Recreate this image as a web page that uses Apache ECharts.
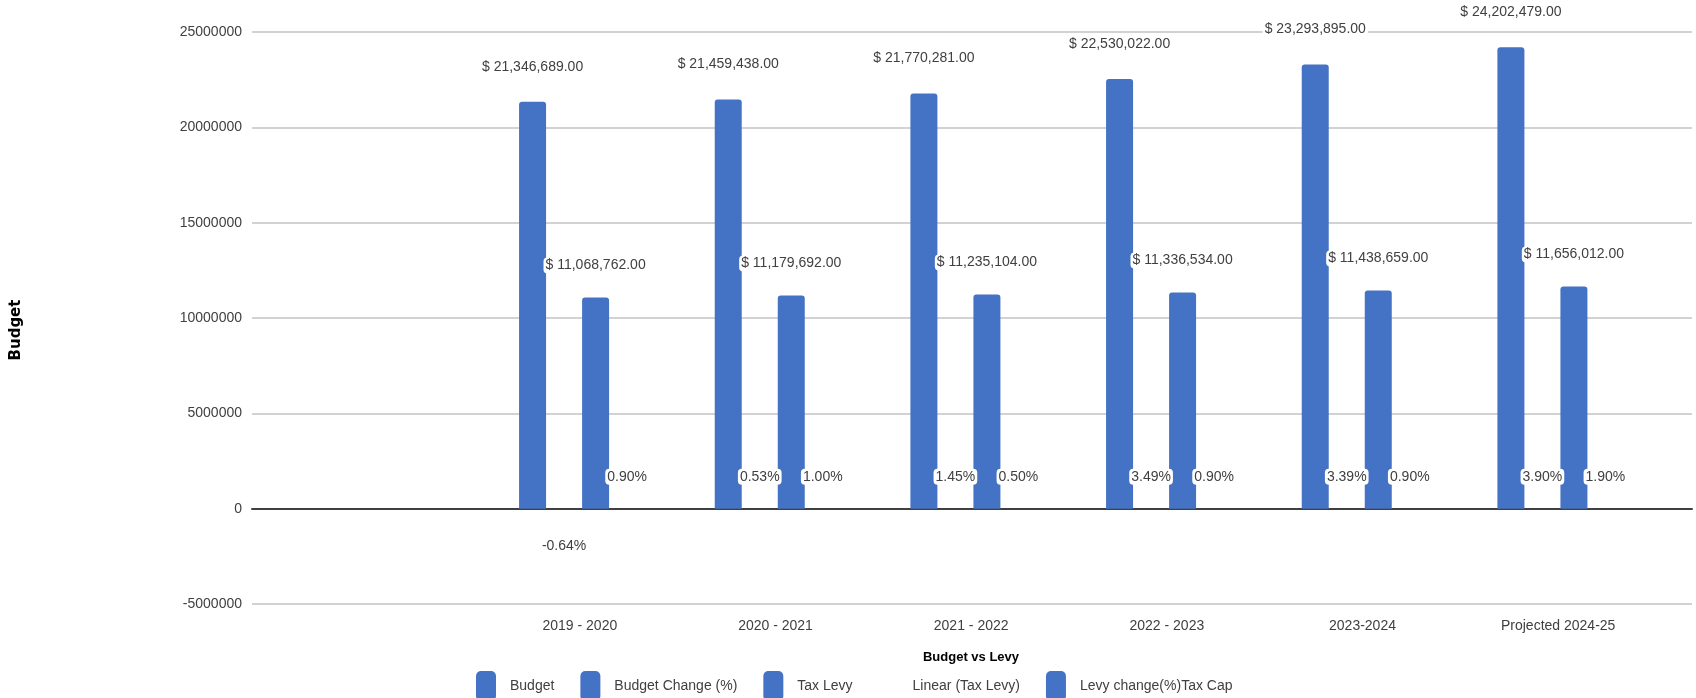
<!DOCTYPE html>
<html>
<head>
<meta charset="utf-8">
<script src="https://cdn.jsdelivr.net/npm/echarts@6/dist/echarts.min.js"></script>
<style>
  html, body { margin: 0; padding: 0; background: #ffffff; }
  #chart { width: 1696px; height: 698px; }
</style>
</head>
<body>
<div id="chart"></div>
<script>
// ---- data ----
const categories = ['2019 - 2020', '2020 - 2021', '2021 - 2022', '2022 - 2023', '2023-2024', 'Projected 2024-25'];
const budget = [21346689, 21459438, 21770281, 22530022, 23293895, 24202479];
const budgetChange = [-0.64, 0.53, 1.45, 3.49, 3.39, 3.90];
const taxLevy = [11068762, 11179692, 11235104, 11336534, 11438659, 11656012];
const levyChange = [0.90, 1.00, 0.50, 0.90, 0.90, 1.90];
const yMin = -5000000, yMax = 25000000, yInterval = 5000000;

// ---- styling ----
const BLUE = '#4472C4';
const TEXT = '#404040';
const FONT = 'Liberation Sans';

function money(v) {
  const s = v.toFixed(2).replace(/\B(?=(\d{3})+(?!\d))/g, ',');
  return '$ ' + s;
}
function pct(v) { return v.toFixed(2) + '%'; }

const labelBase = {
  show: true,
  color: TEXT,
  fontFamily: FONT,
  fontSize: 14,
  backgroundColor: '#ffffff',
  borderRadius: 4,
  padding: [1, 2],
  distance: 24
};

function pctData(arr) {
  return arr.map(v => ({
    value: v,
    label: v < 0 ? { position: 'bottom', distance: 29 } : { position: 'top' }
  }));
}

const barCommon = {
  type: 'bar',
  xAxisIndex: 1,
  yAxisIndex: 1,
  barWidth: 27,
  barGap: '16.7%',
  itemStyle: { color: BLUE, borderRadius: [3, 3, 0, 0] }
};

const chart = echarts.init(document.getElementById('chart'), null, { renderer: 'canvas' });
chart.setOption({
  animation: false,
  backgroundColor: '#ffffff',
  textStyle: { fontFamily: FONT },
  grid: [
    { left: 252, right: 4, top: 32, bottom: 94, containLabel: false },
    { left: 482, right: 40, top: 32, bottom: 94, containLabel: false }
  ],
  xAxis: [
    {
      gridIndex: 0, type: 'value', min: 0, max: 1,
      axisLine: { show: true, onZero: true, lineStyle: { color: TEXT, width: 2 } },
      axisTick: { show: false }, axisLabel: { show: false }, splitLine: { show: false }
    },
    {
      gridIndex: 1, type: 'category', data: categories,
      axisLine: { show: false, onZero: false }, axisTick: { show: false },
      axisLabel: { color: TEXT, fontFamily: FONT, fontSize: 14, margin: 15 },
      splitLine: { show: false }
    }
  ],
  yAxis: [
    {
      gridIndex: 0, type: 'value', min: yMin, max: yMax, interval: yInterval,
      axisLine: { show: false }, axisTick: { show: false },
      axisLabel: { color: TEXT, fontFamily: FONT, fontSize: 14, margin: 10, formatter: v => String(v) },
      splitLine: { show: true, lineStyle: { color: '#d2d2d2', width: 2 } }
    },
    {
      gridIndex: 1, type: 'value', min: yMin, max: yMax, interval: yInterval,
      show: false, splitLine: { show: false }
    }
  ],
  legend: {
    left: 471,
    top: 666,
    itemWidth: 20,
    itemHeight: 30,
    itemGap: 26,
    icon: 'roundRect',
    selectedMode: false,
    textStyle: { color: TEXT, fontFamily: FONT, fontSize: 14, padding: [0, 0, 0, 9] },
    data: [
      { name: 'Budget' },
      { name: 'Budget Change (%)' },
      { name: 'Tax Levy' },
      { name: 'Linear (Tax Levy)', icon: 'rect', itemStyle: { opacity: 0 } },
      { name: 'Levy change(%)Tax Cap' }
    ]
  },
  graphic: [
    {
      type: 'text', x: 971, y: 657,
      style: { text: 'Budget vs Levy', fill: '#000000', font: 'bold 13px "Liberation Sans"', align: 'center', verticalAlign: 'middle' }
    },
    {
      type: 'text', x: 16, y: 330, rotation: Math.PI / 2,
      style: { text: 'Budget', fill: '#000000', font: 'bold 15px "DejaVu Sans"', align: 'center', verticalAlign: 'middle' }
    }
  ],
  series: [
    Object.assign({}, barCommon, {
      name: 'Budget', data: budget,
      label: Object.assign({}, labelBase, { position: 'top', distance: 27, formatter: p => money(p.value) })
    }),
    Object.assign({}, barCommon, {
      name: 'Budget Change (%)', data: pctData(budgetChange),
      label: Object.assign({}, labelBase, { formatter: p => pct(p.value) })
    }),
    Object.assign({}, barCommon, {
      name: 'Tax Levy', data: taxLevy,
      label: Object.assign({}, labelBase, { position: 'top', formatter: p => money(p.value) })
    }),
    {
      name: 'Linear (Tax Levy)', type: 'line', xAxisIndex: 1, yAxisIndex: 1, data: [],
      itemStyle: { color: 'rgba(0,0,0,0)' }, lineStyle: { opacity: 0 }, symbol: 'none'
    },
    Object.assign({}, barCommon, {
      name: 'Levy change(%)Tax Cap', data: pctData(levyChange),
      label: Object.assign({}, labelBase, { formatter: p => pct(p.value) })
    })
  ]
});
</script>
</body>
</html>
